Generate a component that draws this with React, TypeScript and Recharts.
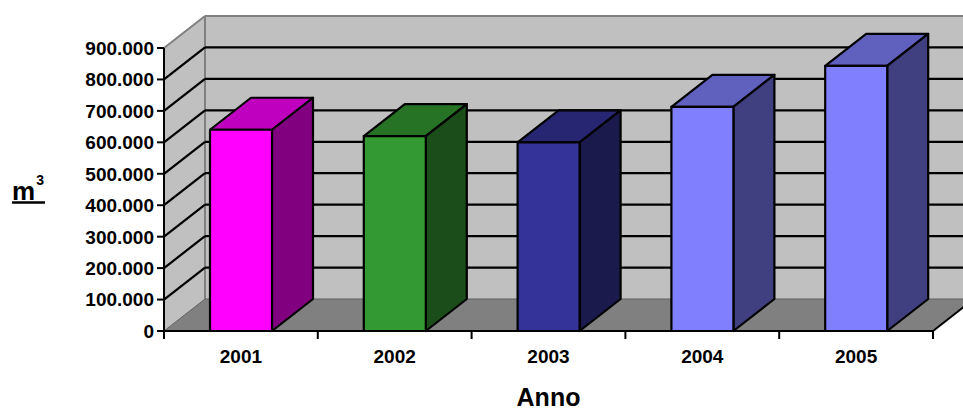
import React from 'react';
import { BarChart, Bar, XAxis, YAxis, CartesianGrid, Cell } from 'recharts';

// ---- data ----
const YEARS = ['2001', '2002', '2003', '2004', '2005'];
const VOLUMES = [640000, 620000, 600000, 713000, 843000];
const Y_TICKS = [0, 100000, 200000, 300000, 400000, 500000, 600000, 700000, 800000, 900000];
const Y_UNIT = 'm';
const Y_UNIT_EXP = '3';
const X_TITLE = 'Anno';

// ---- styles ----
const BAR_COLORS = ['#FF00FF', '#339933', '#333399', '#8080FF', '#8080FF'];
const FONT = "'Liberation Sans', Arial, Helvetica, sans-serif";

const data = YEARS.map((year, i) => ({ year, volume: VOLUMES[i] }));

// ---- layout ----
const W = 963;
const H = 410;
const MARGIN = { top: 48, right: 30, bottom: 0, left: 64 };
const Y_AXIS_W = 100;
const X_AXIS_H = 79;
const PLOT_L = MARGIN.left + Y_AXIS_W;
const PLOT_T = MARGIN.top;
const PLOT_R = W - MARGIN.right;
const PLOT_B = H - MARGIN.bottom - X_AXIS_H;
const DX = 41;
const DY = 32;

const fmt = (v: number) => String(v).replace(/\B(?=(\d{3})+(?!\d))/g, '.');

const shade = (hex: string, f: number) => {
  const n = parseInt(hex.slice(1), 16);
  const r = Math.round(((n >> 16) & 255) * f);
  const g = Math.round(((n >> 8) & 255) * f);
  const b = Math.round((n & 255) * f);
  return `rgb(${r},${g},${b})`;
};

const Walls = () => {
  const bx = PLOT_L + DX;
  const by = PLOT_T - DY;
  const bb = PLOT_B - DY;
  const br = PLOT_R + DX;
  return (
    <g>
      <rect x={bx} y={by} width={br - bx} height={bb - by} fill="#C0C0C0" />
      <polygon points={`${PLOT_L},${PLOT_T} ${bx},${by} ${bx},${bb} ${PLOT_L},${PLOT_B}`} fill="#C0C0C0" />
      <polygon points={`${PLOT_L},${PLOT_B} ${bx},${bb} ${br},${bb} ${PLOT_R},${PLOT_B}`} fill="#808080" />
      <line x1={PLOT_L} y1={PLOT_T} x2={bx} y2={by} stroke="#808080" strokeWidth={2} />
      <line x1={bx} y1={by} x2={br} y2={by} stroke="#808080" strokeWidth={2} />
      <line x1={bx} y1={by} x2={bx} y2={bb} stroke="#808080" strokeWidth={2} />
      <line x1={bx} y1={bb} x2={br} y2={bb} stroke="#606060" strokeWidth={1} />
      <line x1={PLOT_L} y1={PLOT_B} x2={bx} y2={bb} stroke="#606060" strokeWidth={1} />
      <line x1={PLOT_R} y1={PLOT_B} x2={br} y2={bb} stroke="#000" strokeWidth={2} />
    </g>
  );
};

const renderGridLine = (props: any) => {
  const { x1, y1, x2, index } = props;
  const isEdge = Math.abs(y1 - PLOT_T) < 1 || Math.abs(y1 - PLOT_B) < 1;
  return (
    <g key={`grid-${index}`}>
      {index === 0 && <Walls />}
      {!isEdge && (
        <g>
          <line x1={x1} y1={y1} x2={x1 + DX} y2={y1 - DY} stroke="#000" strokeWidth={2.2} />
          <line x1={x1 + DX} y1={y1 - DY} x2={x2 + DX} y2={y1 - DY} stroke="#000" strokeWidth={2.2} />
        </g>
      )}
    </g>
  );
};

const Bar3D = (props: any) => {
  const { x, y, width, height, index } = props;
  if (x == null || y == null || !width) return null;
  const front = props.fill && props.fill.startsWith('#') ? props.fill : BAR_COLORS[index];
  const top = shade(front, 0.75);
  const side = shade(front, 0.5);
  return (
    <g stroke="#000" strokeWidth={2.2} strokeLinejoin="round">
      <polygon points={`${x},${y} ${x + DX},${y - DY} ${x + width + DX},${y - DY} ${x + width},${y}`} fill={top} />
      <polygon
        points={`${x + width},${y} ${x + width + DX},${y - DY} ${x + width + DX},${y + height - DY} ${x + width},${y + height}`}
        fill={side}
      />
      <rect x={x} y={y} width={width} height={height} fill={front} />
    </g>
  );
};

const YTick = (props: any) => {
  const { x, y, payload } = props;
  return (
    <text x={x} y={y} dy="0.36em" textAnchor="end" fontFamily={FONT} fontWeight={700} fontSize={19} fill="#000">
      {fmt(payload.value)}
    </text>
  );
};

const XTick = (props: any) => {
  const { x, payload, index } = props;
  const half = (PLOT_R - PLOT_L) / YEARS.length / 2;
  return (
    <g>
      <line x1={x - half} y1={PLOT_B} x2={x - half} y2={PLOT_B + 8} stroke="#000" strokeWidth={2} />
      {index === YEARS.length - 1 && (
        <line x1={x + half} y1={PLOT_B} x2={x + half} y2={PLOT_B + 8} stroke="#000" strokeWidth={2} />
      )}
      <text x={x} y={PLOT_B + 32} textAnchor="middle" fontFamily={FONT} fontWeight={700} fontSize={19} fill="#000">
        {payload.value}
      </text>
    </g>
  );
};

const renderUnit = (props: any) => {
  const vb = props && props.viewBox;
  const cy = vb && vb.height ? vb.y + vb.height / 2 : (PLOT_T + PLOT_B) / 2;
  return (
    <g>
      <text x={12} y={cy + 10} fontFamily={FONT} fontWeight={700} fontSize={26} fill="#000">
        {Y_UNIT}
        <tspan dx={1} dy={-15} fontSize={14}>
          {Y_UNIT_EXP}
        </tspan>
      </text>
      <line x1={12} x2={45} y1={cy + 13} y2={cy + 13} stroke="#000" strokeWidth={2.5} />
    </g>
  );
};

const renderTitle = (props: any) => {
  const vb = props && props.viewBox;
  const cx = vb && vb.width ? vb.x + vb.width / 2 : (PLOT_L + PLOT_R) / 2;
  return (
    <text x={cx} y={PLOT_B + 75} textAnchor="middle" fontFamily={FONT} fontWeight={700} fontSize={25} fill="#000">
      {X_TITLE}
    </text>
  );
};

export default function App() {
  return (
    <div style={{ position: 'absolute', left: 0, top: 0, width: W, height: H, background: '#fff' }}>
      <BarChart width={W} height={H} data={data} margin={MARGIN} barCategoryGap={0}>
        <CartesianGrid vertical={false} horizontal={renderGridLine} />
        <YAxis
          type="number"
          width={Y_AXIS_W}
          domain={[0, 900000]}
          ticks={Y_TICKS}
          interval={0}
          axisLine={{ stroke: '#000', strokeWidth: 2 }}
          tickLine={{ stroke: '#000', strokeWidth: 2 }}
          tickSize={7}
          tickMargin={3}
          tick={<YTick />}
          label={renderUnit}
        />
        <XAxis
          dataKey="year"
          height={X_AXIS_H}
          interval={0}
          axisLine={{ stroke: '#000', strokeWidth: 2 }}
          tickLine={false}
          tick={<XTick />}
          label={renderTitle}
        />
        <Bar dataKey="volume" barSize={62} isAnimationActive={false} shape={(p: any) => <Bar3D {...p} />}>
          {data.map((d, i) => (
            <Cell key={d.year} fill={BAR_COLORS[i]} />
          ))}
        </Bar>
      </BarChart>
    </div>
  );
}
